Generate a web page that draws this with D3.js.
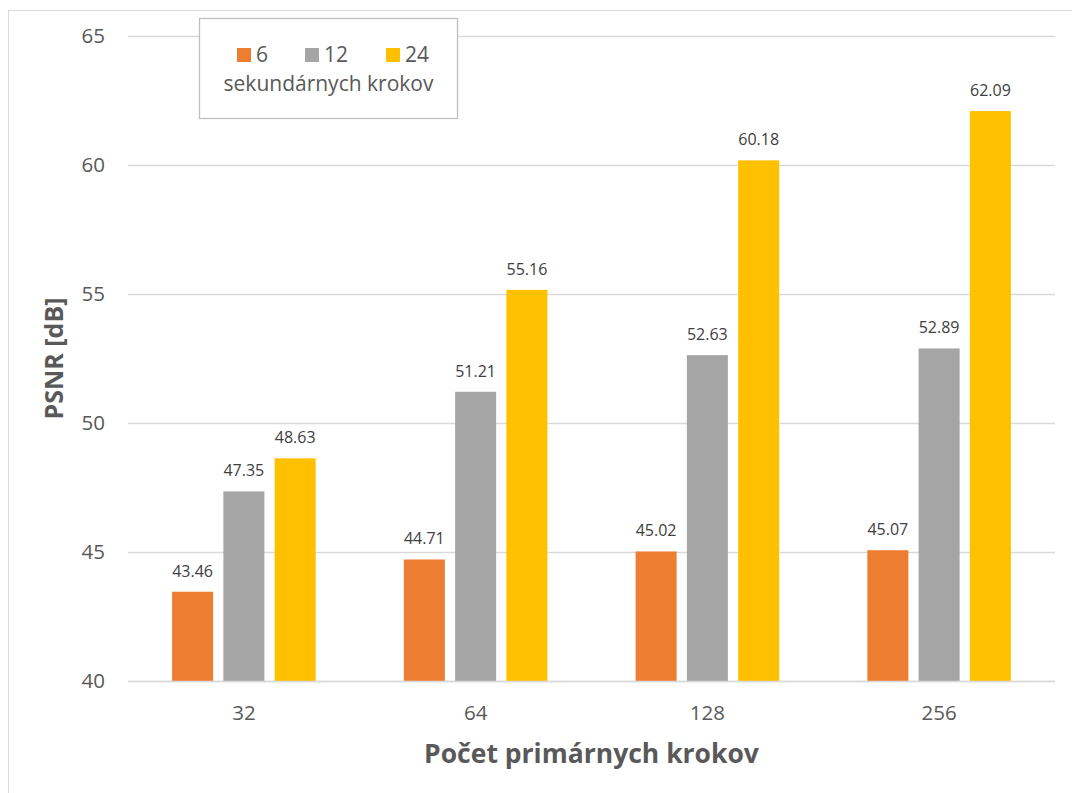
<!DOCTYPE html>
<html>
<head>
<meta charset="utf-8">
<script src="https://cdn.jsdelivr.net/npm/d3@7"></script>
<style>
  html, body { margin: 0; padding: 0; background: #fff; }
  svg { display: block; font-family: "Open Sans", "DejaVu Sans", sans-serif; }
</style>
</head>
<body>
<svg id="chart" width="1072" height="793"></svg>
<script>
// Primary step counts (x categories)
const categories = ["32", "64", "128", "256"];
// Secondary step counts (series)
const seriesNames = ["6", "12", "24"];
// PSNR [dB] per series, one value per category
const psnr6  = [43.46, 44.71, 45.02, 45.07];
const psnr12 = [47.35, 51.21, 52.63, 52.89];
const psnr24 = [48.63, 55.16, 60.18, 62.09];
const seriesValues = [psnr6, psnr12, psnr24];
const seriesColors = ["#ED7D31", "#A5A5A5", "#FFC000"];
const yTicks = [40, 45, 50, 55, 60, 65];

const svg = d3.select("#chart");

// outer chart frame
svg.append("rect")
  .attr("x", 8.5).attr("y", 10.5)
  .attr("width", 1100).attr("height", 820)
  .attr("fill", "#fff").attr("stroke", "#d9d9d9").attr("stroke-width", 1);

const plot = { left: 128, right: 1055, top: 36, bottom: 681 };

const y = d3.scaleLinear().domain([40, 65]).range([plot.bottom, plot.top]);
const x0 = d3.scaleBand().domain(categories).range([plot.left, plot.right]).padding(0);
const x1 = d3.scaleBand().domain(seriesNames).range([0, x0.bandwidth()])
  .paddingInner(0.2).paddingOuter(0.86);

// horizontal gridlines
svg.append("g").selectAll("line").data(yTicks).join("line")
  .attr("x1", plot.left).attr("x2", plot.right)
  .attr("y1", d => Math.round(y(d)) + 0.5).attr("y2", d => Math.round(y(d)) + 0.5)
  .attr("stroke", "#d9d9d9").attr("stroke-width", 1.3);

// y axis labels
const yAxis = d3.axisLeft(y).tickValues(yTicks).tickSize(0).tickPadding(0);
const gy = svg.append("g").attr("transform", `translate(105,0)`).call(yAxis);
gy.select(".domain").remove();
gy.selectAll("text")
  .attr("font-family", "'Open Sans', sans-serif")
  .attr("font-size", 20.5).attr("fill", "#595959");

// x axis labels
const xAxis = d3.axisBottom(x0).tickSize(0).tickPadding(0);
const gx = svg.append("g").attr("transform", `translate(0,${plot.bottom})`).call(xAxis);
gx.select(".domain").remove();
gx.selectAll("text")
  .attr("font-family", "'Open Sans', sans-serif")
  .attr("font-size", 20.5).attr("fill", "#595959")
  .attr("dy", 0).attr("y", 39);

// bars
const rows = [];
categories.forEach((c, i) => {
  seriesNames.forEach((s, j) => rows.push({ cat: c, ser: s, v: seriesValues[j][i], color: seriesColors[j] }));
});

const bars = svg.append("g");
bars.selectAll("rect").data(rows).join("rect")
  .attr("x", d => x0(d.cat) + x1(d.ser))
  .attr("width", x1.bandwidth())
  .attr("y", d => y(d.v))
  .attr("height", d => y(40) - y(d.v))
  .attr("fill", d => d.color);

// value labels
bars.selectAll("text").data(rows).join("text")
  .attr("x", d => x0(d.cat) + x1(d.ser) + x1.bandwidth() / 2)
  .attr("y", d => y(d.v) - 15)
  .attr("text-anchor", "middle")
  .attr("font-size", 16).attr("fill", "#404040")
  .text(d => d.v.toFixed(2));

// redraw baseline over bars
svg.append("line")
  .attr("x1", plot.left).attr("x2", plot.right)
  .attr("y1", Math.round(y(40)) + 0.5).attr("y2", Math.round(y(40)) + 0.5)
  .attr("stroke", "#d9d9d9").attr("stroke-width", 1.3);

// axis titles
svg.append("text")
  .attr("x", (plot.left + plot.right) / 2).attr("y", 763)
  .attr("text-anchor", "middle")
  .attr("font-size", 26.5).attr("font-weight", "bold").attr("fill", "#595959")
  .text("Počet primárnych krokov");

svg.append("text")
  .attr("transform", `translate(63,${(plot.top + plot.bottom) / 2}) rotate(-90)`)
  .attr("text-anchor", "middle")
  .attr("font-size", 25).attr("font-weight", "bold").attr("fill", "#595959")
  .text("PSNR [dB]");

// legend
const legend = svg.append("g");
legend.append("rect")
  .attr("x", 199.5).attr("y", 18.5).attr("width", 258).attr("height", 100)
  .attr("fill", "#fff").attr("stroke", "#bfbfbf").attr("stroke-width", 1.3);

const legendX = [237, 305, 386];
seriesNames.forEach((s, j) => {
  legend.append("rect")
    .attr("x", legendX[j]).attr("y", 48).attr("width", 14).attr("height", 14)
    .attr("fill", seriesColors[j]);
  legend.append("text")
    .attr("x", legendX[j] + 19).attr("y", 61.5)
    .attr("font-size", 21).attr("fill", "#595959")
    .text(s);
});
legend.append("text")
  .attr("x", 328.5).attr("y", 90.5)
  .attr("text-anchor", "middle")
  .attr("font-size", 21).attr("fill", "#595959")
  .text("sekundárnych krokov");
</script>
</body>
</html>
